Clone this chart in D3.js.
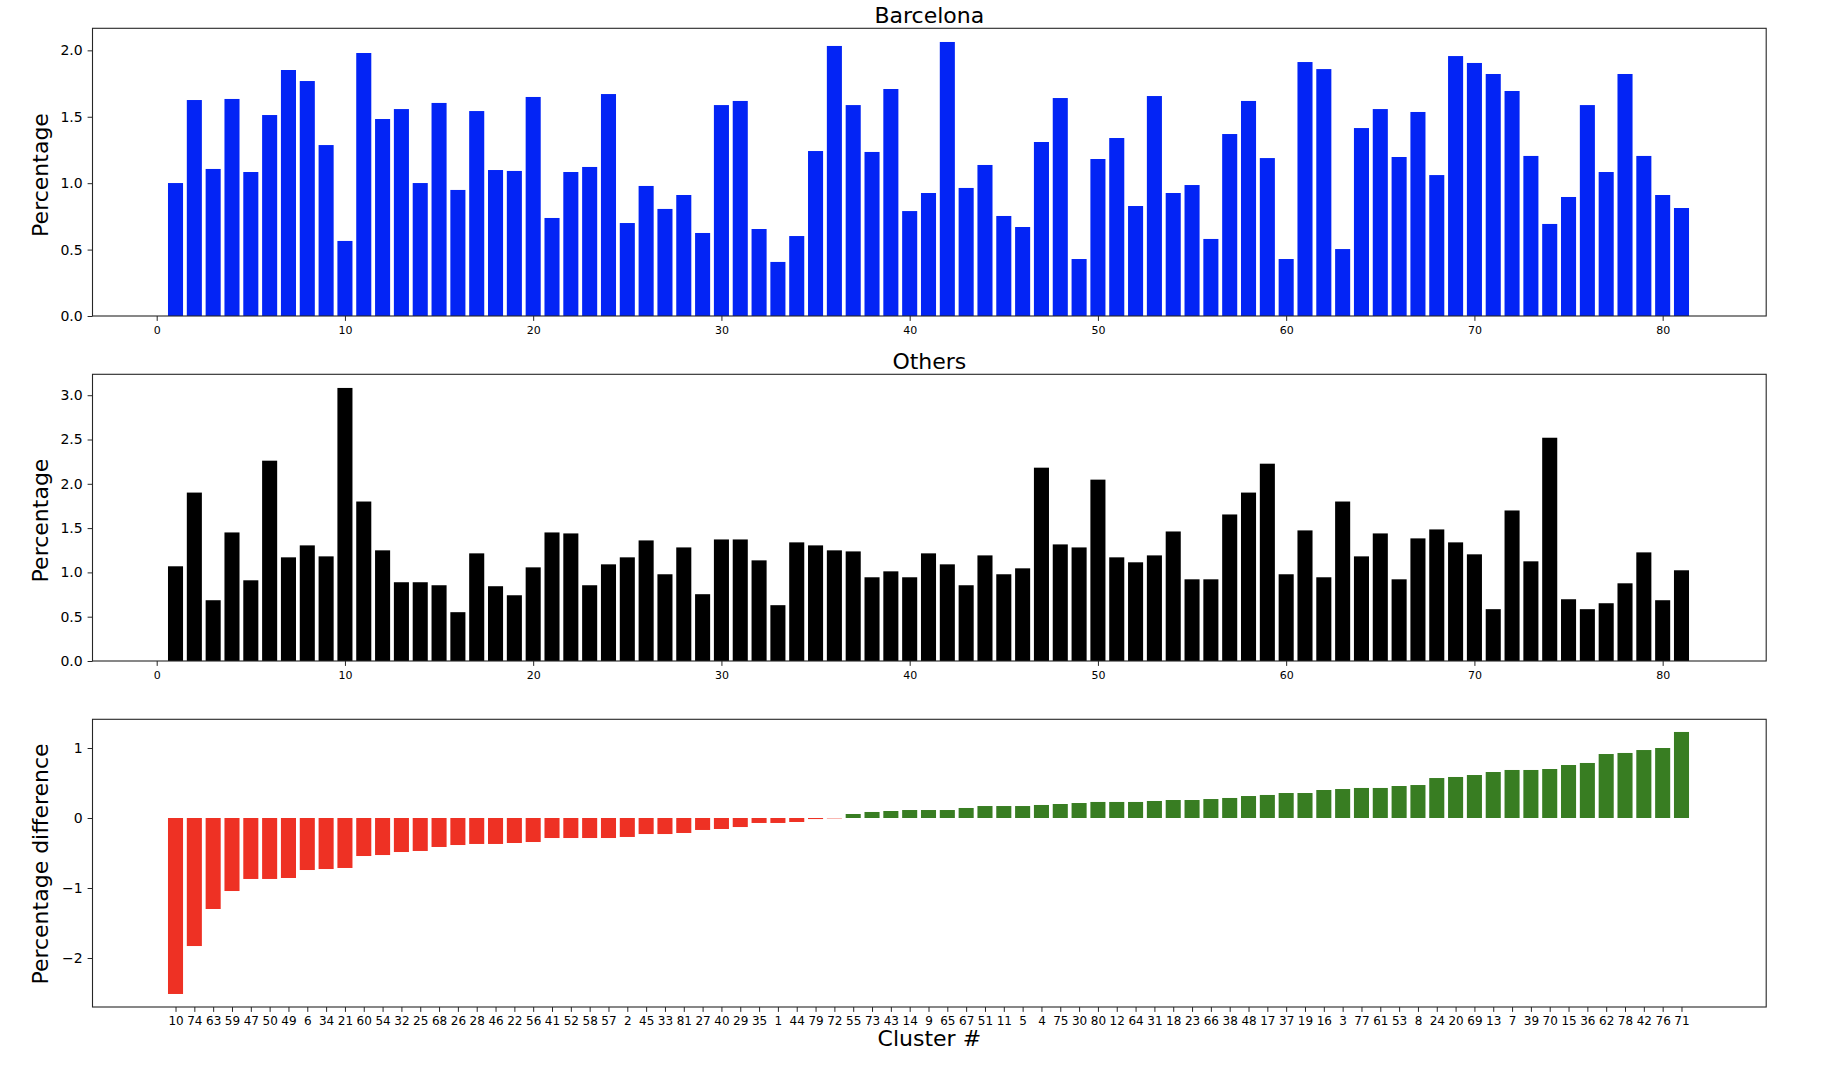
<!DOCTYPE html>
<html>
<head>
<meta charset="utf-8">
<script src="https://cdn.jsdelivr.net/npm/d3@7"></script>
<style>
  html, body { margin: 0; padding: 0; background: #fff; }
  svg { display: block; font-family: "DejaVu Sans", sans-serif; }
</style>
</head>
<body>
<svg id="chart" width="1836" height="1066"></svg>
<script>
// ---- Data ----
const clusters = d3.range(1, 82);
const barcelona = [
  1.001,1.626,1.107,1.634,1.084,1.513,1.852,1.769,1.287,0.565,
  1.980,1.483,1.558,1.001,1.604,0.949,1.543,1.099,1.092,1.649,
  0.738,1.084,1.122,1.671,0.700,0.979,0.806,0.911,0.625,1.588,
  1.619,0.655,0.407,0.602,1.242,2.033,1.588,1.235,1.709,0.790,
  0.926,2.063,0.964,1.137,0.753,0.670,1.310,1.641,0.429,1.182,
  1.340,0.828,1.656,0.926,0.986,0.580,1.370,1.619,1.189,0.429,
  1.912,1.859,0.504,1.415,1.558,1.197,1.536,1.061,1.957,1.905,
  1.822,1.694,1.205,0.693,0.896,1.588,1.084,1.822,1.205,0.911,0.813
];
const others = [
  1.069,1.901,0.686,1.451,0.911,2.261,1.170,1.305,1.181,3.082,
  1.800,1.249,0.889,0.889,0.855,0.551,1.215,0.844,0.742,1.057,
  1.451,1.440,0.855,1.091,1.170,1.361,0.979,1.282,0.754,1.372,
  1.372,1.136,0.630,1.339,1.305,1.249,1.237,0.945,1.012,0.945,
  1.215,1.091,0.855,1.192,0.979,1.046,2.182,1.316,1.282,2.047,
  1.170,1.114,1.192,1.462,0.922,0.922,1.654,1.901,2.227,0.979,
  1.474,0.945,1.800,1.181,1.440,0.922,1.384,1.485,1.339,1.204,
  0.585,1.699,1.125,2.520,0.697,0.585,0.652,0.877,1.226,0.686,1.024
];
const sortedClusters = [
  10,74,63,59,47,50,49,6,34,21,60,54,32,25,68,26,28,46,22,56,
  41,52,58,57,2,45,33,81,27,40,29,35,1,44,79,72,55,73,43,14,
  9,65,67,51,11,5,4,75,30,80,12,64,31,18,23,66,38,48,17,37,
  19,16,3,77,61,53,8,24,20,69,13,7,39,70,15,36,62,78,42,76,71
];
const differences = [
  -2.514,-1.829,-1.300,-1.043,-0.871,-0.871,-0.857,-0.743,-0.729,-0.714,
  -0.543,-0.529,-0.486,-0.471,-0.414,-0.386,-0.371,-0.371,-0.357,-0.343,
  -0.286,-0.286,-0.286,-0.286,-0.271,-0.229,-0.229,-0.214,-0.171,-0.157,
  -0.129,-0.071,-0.071,-0.057,-0.015,-0.005,0.057,0.086,0.100,0.114,
  0.114,0.114,0.143,0.171,0.171,0.171,0.186,0.200,0.214,0.229,
  0.229,0.229,0.243,0.257,0.257,0.271,0.286,0.314,0.329,0.357,
  0.357,0.400,0.414,0.429,0.429,0.457,0.471,0.571,0.586,0.614,
  0.657,0.686,0.686,0.700,0.757,0.786,0.914,0.929,0.971,1.000,1.229
];
const topTicks = [0, 0.5, 1.0, 1.5, 2.0];
const midTicks = [0, 0.5, 1.0, 1.5, 2.0, 2.5, 3.0];
const diffTicks = [-2, -1, 0, 1];
const xTicks = [0, 10, 20, 30, 40, 50, 60, 70, 80];

// ---- Layout ----
const svg = d3.select("#chart");
const L = 92.5, R = 1766.2;
const spineColor = "#262626";
const x = d3.scaleLinear().domain([-3.41, 85.5]).range([L, R]);
const barW = x(0.8) - x(0);

function panel(cfg) {
  const g = svg.append("g");
  const y = d3.scaleLinear().domain(cfg.ydom).range([cfg.bottom, cfg.top]);
  g.selectAll("rect.bar").data(cfg.values).enter().append("rect")
    .attr("class", "bar")
    .attr("x", (d, i) => x(cfg.pos[i]) - barW / 2)
    .attr("width", barW)
    .attr("y", d => y(Math.max(0, d)))
    .attr("height", d => Math.abs(y(d) - y(0)))
    .attr("fill", cfg.color);
  const ya = g.append("g").attr("transform", `translate(${L},0)`)
    .call(d3.axisLeft(y).tickValues(cfg.yticks).tickFormat(cfg.yfmt)
      .tickSize(4.9).tickPadding(4.9).tickSizeOuter(0));
  ya.select(".domain").remove();
  ya.selectAll("line").attr("stroke", spineColor).attr("stroke-width", 1);
  ya.selectAll("text").attr("font-size", 14).attr("fill", "#000")
    .attr("font-family", "DejaVu Sans");
  const xa = g.append("g").attr("transform", `translate(0,${cfg.bottom})`)
    .call(d3.axisBottom(x).tickValues(cfg.xticks).tickFormat(cfg.xfmt)
      .tickSize(4.9).tickSizeOuter(0));
  xa.select(".domain").remove();
  xa.selectAll("line").attr("stroke", spineColor).attr("stroke-width", 1);
  xa.selectAll("text").attr("font-size", cfg.xfs).attr("fill", "#000")
    .attr("font-family", "DejaVu Sans")
    .attr("dy", 0).attr("y", cfg.xlabY);
  g.append("rect").attr("x", L).attr("y", cfg.top)
    .attr("width", R - L).attr("height", cfg.bottom - cfg.top)
    .attr("fill", "none").attr("stroke", spineColor).attr("stroke-width", 1.1);
  if (cfg.title) {
    g.append("text").attr("x", (L + R) / 2).attr("y", cfg.top - 5.8)
      .attr("text-anchor", "middle").attr("font-size", 22).text(cfg.title);
  }
  g.append("text")
    .attr("transform", `translate(47.5,${cfg.ylabCenter}) rotate(-90)`)
    .attr("text-anchor", "middle").attr("font-size", 22).text(cfg.ylabel);
  return g;
}

const fmt1 = d3.format(".1f");
panel({
  values: barcelona, pos: clusters, color: "#0324f5",
  top: 28.3, bottom: 316, ydom: [0, 2.166], yticks: topTicks, yfmt: fmt1,
  xticks: xTicks, xfmt: d3.format("d"), xfs: 11, xlabY: 17.5,
  title: "Barcelona", ylabel: "Percentage", ylabCenter: 175
});
panel({
  values: others, pos: clusters, color: "#000000",
  top: 374.3, bottom: 661, ydom: [0, 3.236], yticks: midTicks, yfmt: fmt1,
  xticks: xTicks, xfmt: d3.format("d"), xfs: 11, xlabY: 17.5,
  title: "Others", ylabel: "Percentage", ylabCenter: 520.5
});
const p3 = panel({
  values: differences, pos: clusters, color: "#387d22",
  top: 719.3, bottom: 1007, ydom: [-2.70, 1.41], yticks: diffTicks,
  yfmt: d => (d < 0 ? "\u2212" + Math.abs(d) : String(d)),
  xticks: clusters, xfmt: (d, i) => String(sortedClusters[i]), xfs: 12, xlabY: 18.3,
  title: null, ylabel: "Percentage difference", ylabCenter: 864
});
p3.selectAll("rect.bar").attr("fill", d => d < 0 ? "#ee3124" : "#387d22");

svg.append("text").attr("x", (L + R) / 2).attr("y", 1046)
  .attr("text-anchor", "middle").attr("font-size", 22).text("Cluster #");
</script>
</body>
</html>
